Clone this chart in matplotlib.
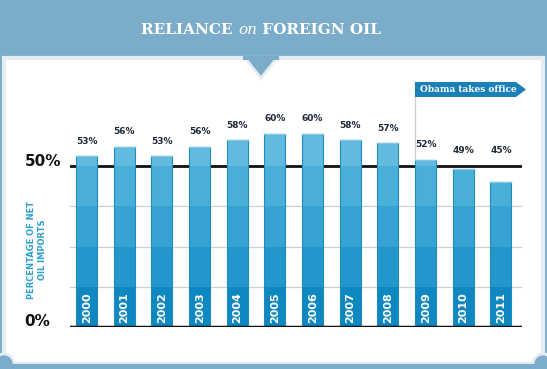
import matplotlib
matplotlib.use("Agg")
import matplotlib.pyplot as plt
from matplotlib.patches import Rectangle, Polygon, Ellipse

years = ["2000", "2001", "2002", "2003", "2004", "2005",
         "2006", "2007", "2008", "2009", "2010", "2011"]
share = [53, 56, 53, 56, 58, 60, 60, 58, 57, 52, 49, 45]
band_edges = [0, 12.5, 25, 37.5, 50, 100]
band_colors = ["#0f88c2", "#2397cc", "#36a3d2", "#49aed8", "#62bbdf"]

W, H = 547, 369
BLUE = "#7badcb"
fig = plt.figure(figsize=(W / 100, H / 100), dpi=100)
fig.patch.set_facecolor(BLUE)

def px(x, y):
    return x / W, 1 - y / H

# white panel
fig.patches.append(Rectangle(px(4, 364), 539 / W, 306 / H, transform=fig.transFigure,
                             facecolor="white", edgecolor="#e6ecf0", lw=3, zorder=0))
# ticket-style cut corners at the bottom
for cx in (4, 543):
    fig.patches.append(Ellipse(px(cx, 364), 20 / W, 20 / H, transform=fig.transFigure,
                               facecolor=BLUE, edgecolor="#e6ecf0", lw=2, zorder=1))
fig.patches.append(Rectangle((0, 0), 1, 5 / H, transform=fig.transFigure,
                             facecolor=BLUE, edgecolor="none", zorder=2))
# notch under the header
fig.patches.append(Polygon([px(245, 58), px(277, 58), px(261, 78)], closed=True,
                           transform=fig.transFigure, facecolor=BLUE,
                           edgecolor="#e6ecf0", lw=2, zorder=1))
fig.patches.append(Rectangle(px(243, 60), 36 / W, 4 / H, transform=fig.transFigure,
                             facecolor=BLUE, edgecolor="none", zorder=2))

# title: RELIANCE on FOREIGN OIL
tkw = dict(color="white", fontsize=11, family="DejaVu Serif", va="baseline", weight="bold")
t1 = fig.text(0, 0, "RELIANCE ", **tkw)
t2 = fig.text(0, 0, "on", style="italic", **{**tkw, "weight": "normal"})
t3 = fig.text(0, 0, " FOREIGN OIL", **tkw)
fig.canvas.draw()
r = fig.canvas.get_renderer()
widths = [t.get_window_extent(r).width for t in (t1, t2, t3)]
x0 = 261 - sum(widths) / 2
ybase = 1 - 34 / H
for t, w in zip((t1, t2, t3), widths):
    t.set_position((x0 / W, ybase))
    x0 += w

# chart axes
ax_top, ax_bot = 82, 327
ax = fig.add_axes([70 / W, 1 - ax_bot / H, 452 / W, (ax_bot - ax_top) / H])
ax.set_zorder(3)
ymax = 50 * (ax_bot - ax_top) / (ax_bot - 166)
ax.set_ylim(0, ymax)
ax.set_xlim(-0.44, 11.56)
ax.axis("off")

for g in [12.5, 25, 37.5]:
    ax.axhline(g, color="#cfcfcf", lw=0.9, zorder=1)
ax.axhline(50, color="#111111", lw=2, zorder=1)

bw = 0.56
for i, v in enumerate(share):
    # paint bands from the top down so no seams show between them
    for lo, c in reversed(list(zip(band_edges[:-1], band_colors))):
        if v > lo:
            ax.bar(i, min(v, band_edges[band_edges.index(lo) + 1]), width=bw,
                   color=c, edgecolor="none", zorder=2)
    ax.add_patch(Rectangle((i - bw / 2, 0), bw, v, facecolor="none",
                           edgecolor="#1e8cbf", lw=0.8, zorder=3))
    ax.plot([i - bw / 2, i + bw / 2], [v, v], color="#7fc6e6", lw=1, zorder=3)
    ax.text(i, max(v, 50) + 3.3, f"{v}%", ha="center", va="bottom", fontsize=6.5,
            color="#1d2a3a", weight="bold", zorder=4)
    ax.text(i + 0.01, 1.2, years[i], rotation=90, ha="center", va="bottom",
            fontsize=8, color="white", weight="bold", zorder=4)

ax.axhline(0, color="#111111", lw=2.5, zorder=5)

# Obama annotation
xl = 9 - bw / 2
ax.plot([xl, xl], [share[9], ymax], color="#d0d0d0", lw=1, zorder=1, clip_on=False)
fig.patches.append(Polygon([px(415, 82), px(516, 82), px(526, 89.5), px(516, 97), px(415, 97)],
                           closed=True, transform=fig.transFigure,
                           facecolor="#1a80b8", edgecolor="none", zorder=5))
fig.text(420 / W, 1 - 89.5 / H, "Obama takes office", color="white", fontsize=6.5,
         family="DejaVu Serif", weight="bold", va="center", ha="left", zorder=6)

# y labels
fig.text(61 / W, 1 - 162 / H, "50%", ha="right", va="center", fontsize=11,
         weight="bold", color="#111111")
fig.text(50 / W, 1 - 321 / H, "0%", ha="right", va="center", fontsize=11,
         weight="bold", color="#111111")
fig.text(37 / W, 1 - 250 / H, "PERCENTAGE OF NET\nOIL IMPORTS", rotation=90,
         ha="center", va="center", fontsize=6, color="#2e9fcf", weight="bold",
         linespacing=1.3)

fig.savefig("out.png", dpi=100, facecolor=fig.get_facecolor())
